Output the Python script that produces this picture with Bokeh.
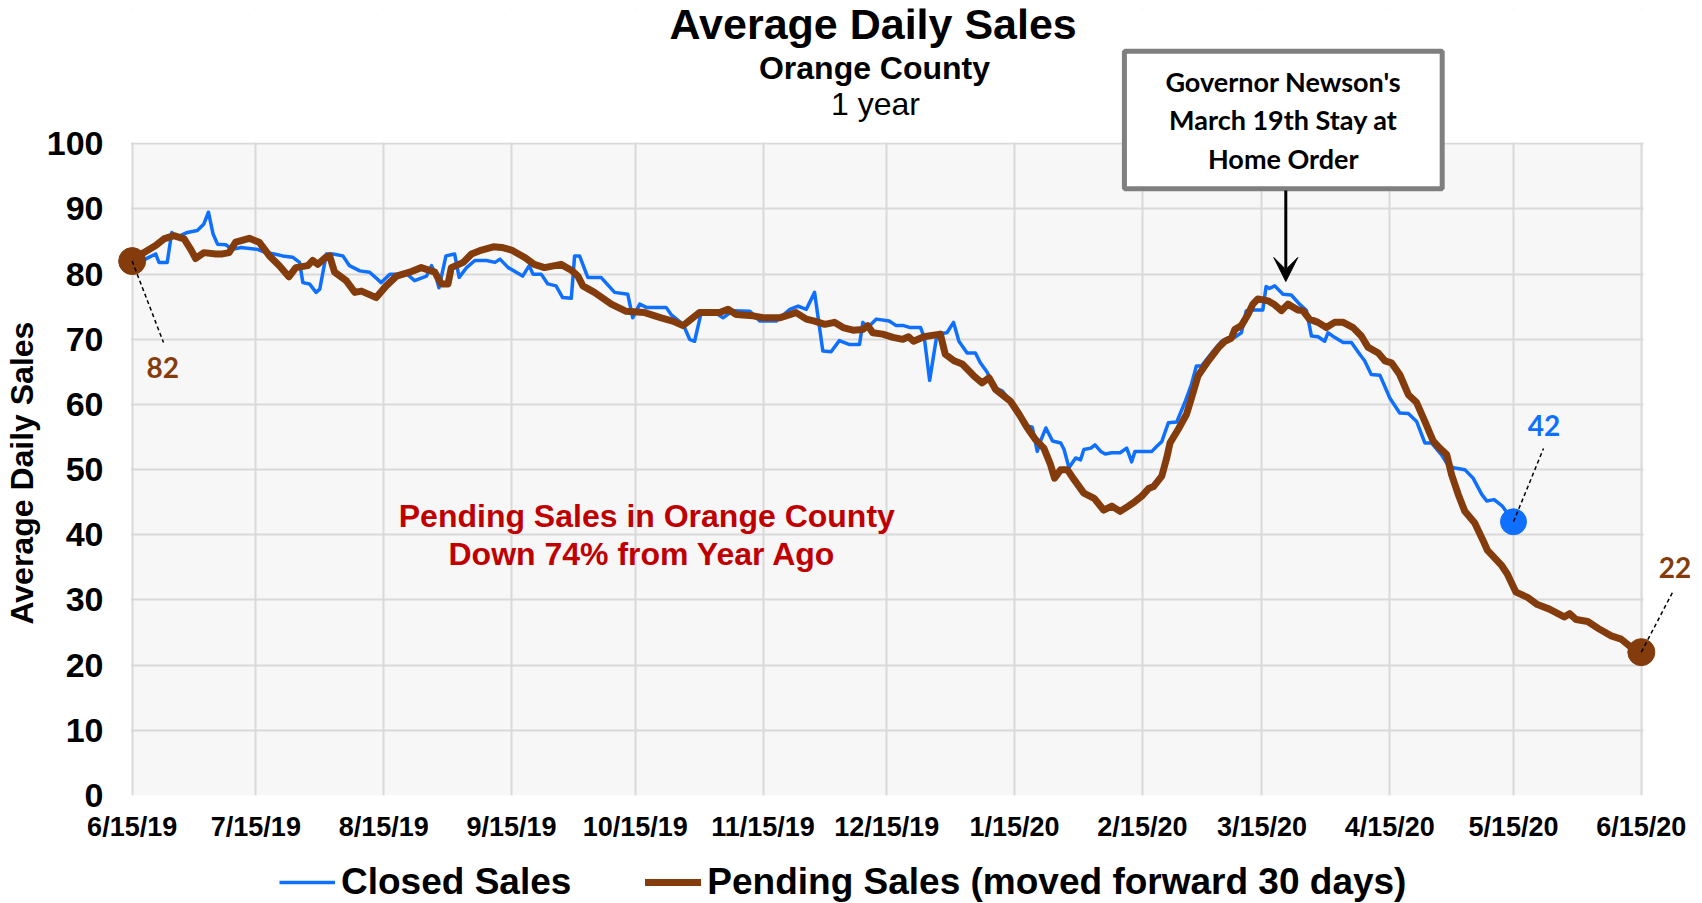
import pandas as pd
from bokeh.plotting import figure
from bokeh.layouts import column
from bokeh.models import (Label, Arrow, VeeHead, Legend, LegendItem, FixedTicker, Range1d,
                          BoxAnnotation)
from bokeh.embed import file_html
from bokeh.resources import INLINE

# ---------------- data ----------------
start_date = "2019-06-15"          # day 0 of both series

# Closed Sales: days since 6/15/19 and average daily sales
closed_day = [0, 3.2, 5.7, 6.5, 8.5, 9.6, 10.6, 13.4, 15.8, 17.4, 18.5, 19.6, 20.7, 22.7, 24.3, 26.4, 30.4, 32.4, 34.5, 36.5, 38.9, 40.6, 41.4, 43.0, 44.6,
              45.5, 47.1, 48.7, 51.1, 52.7, 55.2, 57.6, 60.4, 62.5, 64.9, 66.1, 68.5, 71.4, 72.6, 73.4, 74.4, 76.1, 78.2, 79.3, 81.1, 83.1, 85.9, 88.0, 89.2, 91.2,
              94.7, 96.3, 97.2, 99.2, 100.8, 102.8, 104.4, 106.5, 107.3, 108.5, 110.5, 113.7, 117.0, 120.2, 121.4, 123.1, 124.7, 129.5, 130.7, 133.6, 135.2, 136.4, 138.0, 141.3,
              143.3, 145.7, 149.8, 152.2, 156.2, 159.5, 161.5, 163.5, 165.5, 167.5, 169.5, 171.5, 174.0, 176.4, 177.2, 178.4, 180.5, 183.6, 185.3,
              187.1, 188.7, 191.2, 192.1, 193.4, 195.2, 197.6, 199.2, 200.5, 202.5, 204.5, 205.7, 207.4, 209.0, 211.0, 213.0, 215.5, 217.1, 218.3, 219.5, 220.3, 221.6, 223.2, 225.2, 226.0, 227.2, 228.8, 230.0, 230.8, 232.5, 233.5, 234.9,
              236.0, 237.6, 239.6, 241.2, 242.4, 243.2, 247.3, 248.5, 249.7, 251.3, 253.3, 255.3, 256.9, 258.1, 259.3, 261.8, 264.2, 265.8, 267.4, 269.0, 270.2, 272.2, 274.2, 275.0, 275.8, 277.1, 279.1, 281.1,
              283.1, 284.8, 286.0, 287.6, 289.2, 290.0, 291.6, 293.7, 295.7, 297.7, 298.9, 300.5, 302.6, 305.0, 307.4, 309.5, 311.5, 313.5, 315.1, 317.5, 318.8, 320.4, 323.2, 325.2, 327.3, 328.5, 330.3, 332.3, 335.0]
closed_sales = [82.0, 82.3, 83.1, 81.8, 81.8, 86.4, 85.6, 86.4, 86.7, 87.7, 89.5, 86.2, 84.6, 84.5, 83.8, 84.1, 83.8, 83.3, 83.1, 82.8, 82.6, 81.8, 78.7, 78.5, 77.2,
                77.7, 83.1, 83.1, 82.8, 81.3, 80.5, 80.3, 78.7, 80.0, 80.0, 80.3, 79.0, 79.7, 81.3, 80.3, 77.9, 82.8, 83.1, 79.5, 81.0, 82.1, 82.1, 81.8, 82.3, 81.0,
                79.7, 81.3, 80.0, 80.0, 78.5, 78.2, 76.4, 76.3, 82.8, 82.8, 79.5, 79.5, 77.2, 76.9, 73.3, 75.4, 74.9, 74.9, 73.8, 72.3, 70.0, 69.7, 74.1, 74.1,
                73.3, 74.4, 74.3, 72.8, 72.8, 74.6, 75.1, 74.6, 77.2, 68.2, 68.1, 69.8, 69.2, 69.2, 72.6, 71.8, 73.1, 72.8, 72.1,
                72.1, 71.8, 71.8, 70.3, 63.7, 70.8, 71.0, 72.6, 69.7, 67.9, 67.9, 66.4, 64.9, 62.6, 62.1, 60.5, 57.9, 56.7, 56.5, 52.8, 54.4, 56.4, 54.4, 54.1, 53.1, 50.3, 51.8, 51.5, 53.1, 53.3, 53.8, 52.8,
                52.4, 52.6, 52.6, 53.3, 51.2, 52.8, 52.8, 53.6, 54.3, 57.2, 57.3, 60.3, 63.1, 65.9, 65.9, 67.9, 69.7, 70.2, 70.3, 71.0, 74.4, 74.5, 74.5, 78.1, 77.8, 78.2, 76.9, 76.8,
                75.4, 74.4, 70.5, 70.4, 69.7, 71.0, 70.3, 69.5, 69.5, 67.7, 66.7, 64.6, 64.5, 61.0, 58.7, 58.6, 57.4, 54.1, 54.1, 52.3, 51.0, 50.3, 50.0, 48.7, 46.2, 45.2, 45.4, 44.4, 42.0]

# Pending Sales (moved forward 30 days)
pending_day = [0, 2.8, 5.7, 7.7, 10.1, 12.6, 14.2, 15.4, 17.4, 20.3, 21.9, 23.5, 25.1, 28.4, 30.8, 33.3, 35.7, 38.0, 39.7, 42.6, 43.8, 45.0, 47.0,
               47.9, 49.1, 51.9, 54.0, 55.6, 59.2, 61.6, 64.1, 67.3, 70.1, 73.4, 75.0, 76.6, 77.4, 80.3, 82.3, 84.3, 87.6, 89.6, 92.0,
               95.1, 97.5, 100.0, 104.0, 106.5, 108.1, 109.3, 112.1, 116.2, 119.8, 124.3, 128.3, 131.1, 133.6, 135.6, 137.6,
               140.1, 142.5, 144.5, 146.5, 150.6, 153.0, 157.0, 161.0, 163.5, 165.5, 168.0, 170.3, 172.4, 174.8, 177.2, 178.4, 179.6, 182.0, 184.5, 186.9,
               188.3, 189.5, 192.0, 196.0, 197.2, 199.3, 201.3, 204.1, 206.1, 207.8, 209.4, 211.4, 213.0, 215.1, 217.1, 219.1, 221.1, 222.7, 223.7, 225.2, 226.8, 228.4, 230.8, 233.3, 235.6,
               237.6, 239.6, 241.6, 243.2, 244.8, 246.5, 247.7, 249.7, 250.9, 251.7, 253.7, 255.7, 256.9, 258.5, 261.0, 263.4, 265.0, 266.6, 267.4, 269.0, 270.6, 271.8, 273.0, 275.5, 277.1, 278.7, 280.3, 282.7,
               283.9, 285.5, 287.6, 289.6, 291.6, 293.7, 296.1, 298.1, 299.7, 302.2, 303.8, 305.4, 307.4, 309.5, 311.5, 313.5, 315.5, 317.1, 318.8, 320.0, 321.6, 323.2, 325.6, 327.7,
               328.7, 332.0, 333.5, 335.6, 338.4, 340.8, 343.7, 347.3, 348.6, 350.2, 353.0, 355.9, 358.7, 361.1, 363.6, 366.0]
pending_sales = [82.0, 83.3, 84.4, 85.4, 85.9, 85.4, 83.8, 82.4, 83.3, 83.1, 83.1, 83.3, 84.9, 85.5, 84.9, 82.8, 81.3, 79.6, 81.0, 81.3, 82.1, 81.5, 82.6,
                 82.8, 80.3, 79.0, 77.2, 77.4, 76.4, 78.2, 79.7, 80.3, 81.0, 80.3, 78.5, 78.5, 81.0, 81.8, 83.1, 83.6, 84.2, 84.1, 83.7,
                 82.6, 81.5, 81.0, 81.5, 80.6, 79.7, 78.2, 77.2, 75.4, 74.3, 74.1, 73.3, 72.8, 72.1, 73.1, 74.1,
                 74.1, 74.1, 74.6, 73.8, 73.6, 73.3, 73.3, 74.1, 73.1, 72.8, 72.3, 72.6, 71.8, 71.4, 71.5, 72.1, 71.0, 70.8, 70.3, 70.0,
                 70.4, 69.7, 70.4, 70.8, 67.7, 66.7, 66.2, 64.4, 63.3, 64.1, 62.3, 61.3, 60.5, 58.5, 56.4, 54.6, 53.3, 50.8, 48.7, 50.0, 50.0, 48.5, 46.4, 45.6, 43.8,
                 44.4, 43.6, 44.4, 45.1, 45.9, 47.1, 47.4, 49.0, 51.8, 54.1, 56.2, 58.5, 61.0, 64.4, 66.7, 68.7, 69.7, 70.2, 71.5, 72.1, 73.8, 75.4, 76.2, 75.9, 75.3, 74.4, 75.4, 74.5,
                 74.4, 73.1, 72.6, 71.8, 72.6, 72.6, 71.8, 70.5, 68.8, 67.9, 66.7, 66.4, 64.6, 61.5, 60.3, 57.4, 54.4, 53.3, 52.3, 49.2, 46.2, 43.6, 41.8, 39.0,
                 37.6, 35.4, 34.0, 31.2, 30.4, 29.3, 28.6, 27.4, 27.9, 27.0, 26.7, 25.5, 24.5, 24.0, 22.7, 22.0]

assert len(closed_day) == len(closed_sales)
assert len(pending_day) == len(pending_sales)

series_names = ["Closed Sales", "Pending Sales (moved forward 30 days)"]
tick_dates = ["2019-06-15", "2019-07-15", "2019-08-15", "2019-09-15", "2019-10-15", "2019-11-15", "2019-12-15",
              "2020-01-15", "2020-02-15", "2020-03-15", "2020-04-15", "2020-05-15", "2020-06-15"]
tick_labels = ["6/15/19", "7/15/19", "8/15/19", "9/15/19", "10/15/19", "11/15/19", "12/15/19",
               "1/15/20", "2/15/20", "3/15/20", "4/15/20", "5/15/20", "6/15/20"]
y_ticks = [0, 10, 20, 30, 40, 50, 60, 70, 80, 90, 100]

# ---------------- layout constants (pixels) ----------------
FIG_W = 1690
BORDER_L, BORDER_T, BORDER_B = 113, 8, 50
FRAME_H = 787
CHART_H = BORDER_T + FRAME_H + BORDER_B
LEGEND_H = 58
FRAME_W = FIG_W - BORDER_L          # frame spans to the right edge
PLOT_LEFT = 14.7                    # first date gridline, px from frame left
PLOT_W = 1513.0                     # px between first and last date gridline
PLOT_H = 651.7                      # px between value 0 and value 100
PLOT_RIGHT_EXTRA = 2.3              # gray area past the last gridline
NBSP = "\u00a0"

# ---------------- helpers ----------------
base = pd.Timestamp(start_date)
DAY_MS = 86400000.0


def ms(ts):
    return pd.Timestamp(ts).value / 1e6


closed_x = [ms(base) + d * DAY_MS for d in closed_day]
pending_x = [ms(base) + d * DAY_MS for d in pending_day]
tick_ms = [ms(d) for d in tick_dates]

t_first, t_last = tick_ms[0], tick_ms[-1]
ms_per_px = (t_last - t_first) / PLOT_W
x_start = t_first - PLOT_LEFT * ms_per_px
x_end = x_start + FRAME_W * ms_per_px
y_top = y_ticks[-1] * FRAME_H / PLOT_H
y_px = y_ticks[-1] / PLOT_H

BLUE = "#0F6FFF"
BROWN = "#843C0C"
RED = "#C00000"
GRID = "#D9D9D9"
ARIAL = "Liberation Sans"
CALIBRI = "Lato"

p = figure(width=FIG_W, height=CHART_H, x_axis_type="datetime",
           x_range=Range1d(x_start, x_end), y_range=Range1d(0, y_top),
           output_backend="svg", toolbar_location=None,
           min_border_left=BORDER_L, min_border_right=0, min_border_top=BORDER_T, min_border_bottom=BORDER_B)

p.background_fill_color = "white"
p.border_fill_color = "white"
p.outline_line_color = None

# gray plot area (under the grid)
p.add_layout(BoxAnnotation(left=t_first, right=t_last + PLOT_RIGHT_EXTRA * ms_per_px, bottom=0, top=y_ticks[-1],
                           fill_color="#F7F7F7", fill_alpha=1, line_color=None, level="image"))

p.xaxis.ticker = FixedTicker(ticks=tick_ms)
p.xaxis.major_label_overrides = {t: l for t, l in zip(tick_ms, tick_labels)}
p.yaxis.ticker = FixedTicker(ticks=y_ticks)
p.xgrid.ticker = FixedTicker(ticks=tick_ms)
p.ygrid.ticker = FixedTicker(ticks=y_ticks)
for g in (p.xgrid, p.ygrid):
    g.grid_line_color = GRID
    g.grid_line_width = 2

# white margins hide grid lines outside the plot area
for l_, r_, b_, t_ in [(x_start, x_end, y_ticks[-1] + 1.2 * y_px, y_top),
                       (x_start, t_first - 1.2 * ms_per_px, 0, y_top),
                       (t_last + PLOT_RIGHT_EXTRA * ms_per_px, x_end, 0, y_top)]:
    p.add_layout(BoxAnnotation(left=l_, right=r_, bottom=b_, top=t_, fill_color="white", fill_alpha=1,
                               line_color=None, level="underlay"))

for ax in (p.xaxis, p.yaxis):
    ax.axis_line_color = None
    ax.major_tick_line_color = None
    ax.minor_tick_line_color = None
    ax.major_tick_out = 0
    ax.major_tick_in = 0
    ax.minor_tick_out = 0
    ax.major_label_text_font = ARIAL
    ax.major_label_text_font_style = "bold"
    ax.major_label_text_color = "black"

p.xaxis.major_label_text_font_size = "27px"
p.xaxis.major_label_standoff = 16
p.yaxis.major_label_text_font_size = "34px"
p.yaxis.major_label_standoff = 14
# trailing no-break spaces centre the visible words on the 0-100 plot area
p.yaxis.axis_label = "Average Daily Sales" + NBSP * 16
p.yaxis.axis_label_text_font = ARIAL
p.yaxis.axis_label_text_font_style = "bold"
p.yaxis.axis_label_text_font_size = "32px"
p.yaxis.axis_label_text_color = "black"
p.yaxis.axis_label_standoff = 4

# ---------------- series ----------------
p.line(closed_x, closed_sales, line_color=BLUE, line_width=3.5, line_join="round")
p.line(pending_x, pending_sales, line_color=BROWN, line_width=7, line_join="round", line_cap="round")

# end-point markers
p.scatter([pending_x[0], pending_x[-1]], [pending_sales[0], pending_sales[-1]], size=27,
          fill_color=BROWN, line_color=BROWN)
p.scatter([closed_x[-1]], [closed_sales[-1]], size=26, fill_color=BLUE, line_color=BLUE)


# leader lines and value labels
def leader(x, y, sx, sy):
    p.add_layout(Arrow(end=None, x_start=x, y_start=y, start_units="data",
                       x_end=sx, y_end=sy, end_units="screen",
                       line_color="black", line_width=1.5, line_dash="4 3"))


leader(pending_x[0], pending_sales[0], 46, 453)
leader(closed_x[-1], closed_sales[-1], 1426, 347)
leader(pending_x[-1], pending_sales[-1], 1556, 205)


def txt(s, sx, sy, size, color="black", font=ARIAL, style="bold", align="center", baseline="alphabetic"):
    p.add_layout(Label(x=sx, y=sy, x_units="screen", y_units="screen", text=s,
                       text_font=font, text_font_style=style, text_font_size=size,
                       text_color=color, text_align=align, text_baseline=baseline))


txt(f"{pending_sales[0]:.0f}", 45.3, 428.2, "28px", BROWN, CALIBRI)
txt(f"{closed_sales[-1]:.0f}", 1426.4, 370.2, "28px", BLUE, CALIBRI)
txt(f"{pending_sales[-1]:.0f}", 1557.5, 228.3, "28px", BROWN, CALIBRI)

# titles
txt("Average Daily Sales", 755.7, 771.6, "43px")
txt("Orange County", 757, 728, "32px")
txt("1 year", 758, 692, "32px", style="normal")

# red annotation
txt("Pending Sales in Orange County", 529.3, 279.3, "32px", RED)
txt("Down 74% from Year Ago", 524.8, 241.3, "32px", RED)

# callout box + arrow
p.add_layout(Label(x=1165.8, y=675.5, x_units="screen", y_units="screen",
                   text="Governor Newson's\nMarch 19th Stay at\nHome Order",
                   text_font=CALIBRI, text_font_style="bold", text_font_size="27px", text_color="black",
                   text_align="center", text_baseline="middle", text_line_height=1.16,
                   background_fill_color="white", border_line_color="#7F7F7F", border_line_width=5,
                   padding=dict(left=41, right=41, top=14, bottom=14)))
p.add_layout(Arrow(end=VeeHead(size=24, fill_color="black", line_color="black", line_width=1),
                   x_start=1168.3, y_start=605, x_end=1168.3, y_end=514,
                   start_units="screen", end_units="screen", line_color="black", line_width=3))

# ---------------- legend strip under the chart ----------------
# (the series are repeated here only to style the legend swatches; this strip's
#  ranges keep them out of view)
lg = figure(width=FIG_W, height=LEGEND_H, x_range=Range1d(0, 1), y_range=Range1d(0, 1),
            output_backend="svg", toolbar_location=None, x_axis_location=None, y_axis_location=None,
            min_border_left=0, min_border_right=0, min_border_top=0, min_border_bottom=0)
lg.grid.visible = False
lg.outline_line_color = None
lg.background_fill_color = "white"
lg.border_fill_color = "white"
sw_closed = lg.line(closed_x, closed_sales, line_color=BLUE, line_width=3.5)
sw_pending = lg.line(pending_x, pending_sales, line_color=BROWN, line_width=7, line_cap="round")
legend = Legend(items=[LegendItem(label=series_names[0], renderers=[sw_closed]),
                       LegendItem(label=series_names[1], renderers=[sw_pending])],
                orientation="horizontal", location=(162, 0),
                label_text_font=ARIAL, label_text_font_style="bold", label_text_font_size="37px",
                label_text_color="black",
                glyph_width=56, glyph_height=40, label_height=40, label_standoff=6, spacing=74,
                padding=0, margin=0, border_line_color=None, background_fill_alpha=0)
lg.add_layout(legend)

open("out.html", "w").write(file_html(column(p, lg, spacing=0), INLINE))
